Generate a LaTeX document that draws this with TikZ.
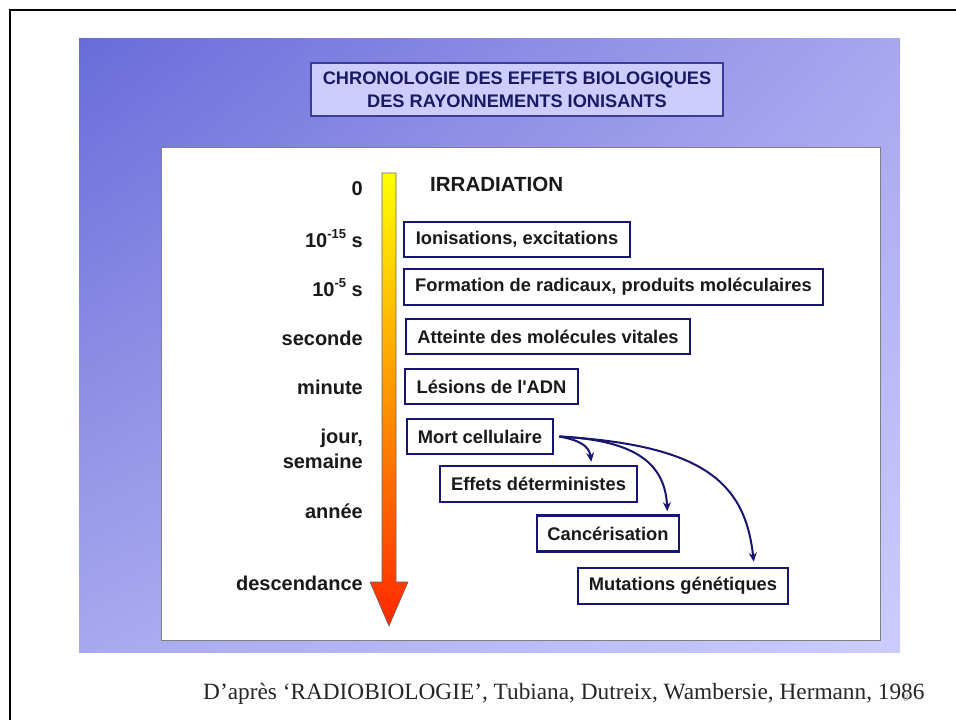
\documentclass[tikz,border=0pt]{standalone}
\usepackage{fontspec}
\setmainfont{Liberation Serif}
\newfontfamily\arialf{Liberation Sans}
\usetikzlibrary{arrows.meta,calc,shadings}
\definecolor{navy}{RGB}{22,22,110}
\definecolor{titletxt}{RGB}{26,26,100}
\definecolor{titlefill}{RGB}{204,204,255}
\definecolor{titleedge}{RGB}{60,60,150}
\definecolor{bgUL}{RGB}{104,108,217}
\definecolor{bgUR}{RGB}{168,166,238}
\definecolor{bgLL}{RGB}{168,168,238}
\definecolor{bgLR}{RGB}{204,204,255}
\definecolor{txt}{RGB}{25,25,25}
\definecolor{arrYellow}{RGB}{255,255,0}
\definecolor{arrOrange}{RGB}{255,170,0}
\definecolor{arrRed}{RGB}{255,40,0}
\tikzset{
  stagebox/.style={draw=navy, line width=2.6pt, fill=white, inner sep=0pt,
    font=\arialf\bfseries\fontsize{18.3}{21}\selectfont, text=txt},
  timelabel/.style={anchor=base east, inner sep=0pt,
    font=\arialf\bfseries\fontsize{20}{23}\selectfont, text=txt},
  flow/.style={draw=navy, line width=2pt, -{Stealth[length=9pt,width=8pt]}},
}
\begin{document}
\begin{tikzpicture}[x=1pt,y=-1pt]
\useasboundingbox (0,0) rectangle (956,720);
\fill[white] (0,0) rectangle (956,720);
\draw[line width=2.4pt] (10,720) -- (10,10) -- (956,10);
\shade[upper left=bgUL, upper right=bgUR, lower left=bgLL, lower right=bgLR] (79,38) rectangle (900,652);
\node[draw=titleedge, line width=1.2pt, fill=titlefill, minimum width=412pt, minimum height=53pt,
  align=center, text=titletxt, font=\arialf\bfseries\fontsize{18.2}{23}\selectfont] (title) at (517,89.5)
  {CHRONOLOGIE DES EFFETS BIOLOGIQUES\\DES RAYONNEMENTS IONISANTS};
\draw[draw=black!50, fill=white, line width=0.8pt] (161,147) rectangle (880,640);
% timeline arrow
\shade[top color=arrYellow, middle color=arrOrange, bottom color=arrRed, draw=black!60, line width=0.6pt]
  (382,173) -- (396,173) -- (396,582) -- (408,582) -- (389,626) -- (370,582) -- (382,582) -- cycle;
% time labels
\node[timelabel] (t0) at (363,195) {0};
\node[timelabel] (t1) at (363,247) {10\raisebox{0.42em}{\fontsize{13}{14}\selectfont -15} s};
\node[timelabel] (t2) at (363,296) {10\raisebox{0.42em}{\fontsize{13}{14}\selectfont -5} s};
\node[timelabel] (t3) at (363,345) {seconde};
\node[timelabel] (t4) at (363,394) {minute};
\node[timelabel] (t5) at (363,443) {jour,};
\node[timelabel] (t6) at (363,468) {semaine};
\node[timelabel] (t7) at (363,518) {année};
\node[timelabel] (t8) at (363,590) {descendance};
% stages
\node[anchor=base west, inner sep=0pt, font=\arialf\bfseries\fontsize{20.5}{23}\selectfont, text=txt] (irr) at (430,191) {IRRADIATION};
\node[stagebox, minimum width=226pt, minimum height=35pt] (ion) at (517,239.5) {Ionisations, excitations};
\node[stagebox, minimum width=419pt, minimum height=36pt] (form) at (613.5,287) {Formation de radicaux, produits moléculaires};
\node[stagebox, minimum width=284pt, minimum height=35pt] (att) at (548,336.5) {Atteinte des molécules vitales};
\node[stagebox, minimum width=173pt, minimum height=35pt] (les) at (491.5,386.5) {Lésions de l'ADN};
\node[stagebox, minimum width=146pt, minimum height=35pt] (mort) at (480,436.5) {Mort cellulaire};
\node[stagebox, minimum width=197pt, minimum height=36pt] (eff) at (538.5,484) {Effets déterministes};
\node[stagebox, minimum width=142pt, minimum height=36pt] (canc) at (608,533.5) {Cancérisation};
\node[stagebox, minimum width=210pt, minimum height=36pt] (mut) at (683,586) {Mutations génétiques};
% connectors
\coordinate (src) at ($(mort.east)+(5,0)$);
\coordinate (effIn) at ($(eff.north east)+(-47,-3)$);
\coordinate (cancIn) at ($(canc.north east)+(-13,-3)$);
\coordinate (mutIn) at ($(mut.north west)+(177,-5)$);
\draw[flow] (src) .. controls (578,440) and (589,445) .. (effIn);
\draw[flow] (src) .. controls (630,440) and (665,460) .. (cancIn);
\draw[flow] (src) .. controls (700,445) and (745,480) .. (mutIn);
% caption
\node[anchor=base west, inner sep=0pt, font=\fontsize{23.3}{27}\selectfont, text=black!85] (cap) at (203,699)
  {D’après ‘RADIOBIOLOGIE’, Tubiana, Dutreix, Wambersie, Hermann, 1986};
\node[inner sep=0pt, font=\fontsize{11}{12}\selectfont, text=black!35] (pg) at (906,698) {8};
\end{tikzpicture}
\end{document}
